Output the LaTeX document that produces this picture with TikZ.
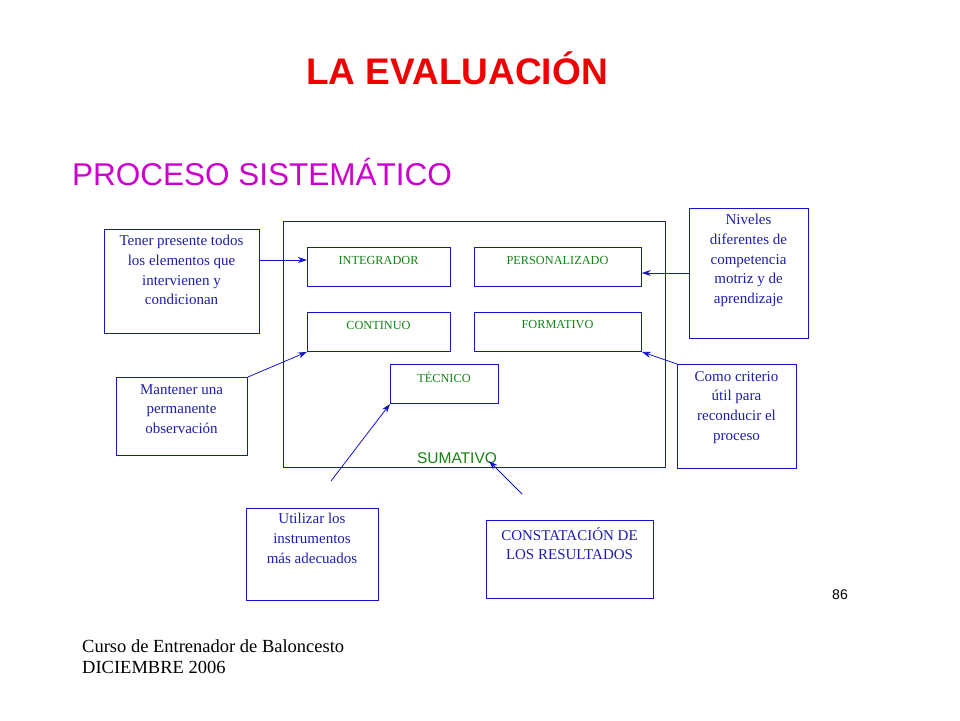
\documentclass[tikz,border=0pt]{standalone}
\usepackage{fontspec}
\setmainfont{Liberation Serif}
\setsansfont{Liberation Sans}
\usetikzlibrary{arrows.meta}
\definecolor{bl}{RGB}{20,20,200}
\definecolor{tx}{RGB}{30,30,170}
\definecolor{gr}{RGB}{20,130,20}
\definecolor{mg}{RGB}{204,0,204}
\tikzset{
 inbox/.style={draw=bl,line width=0.9pt,minimum width=#1,minimum height=39pt,inner sep=0pt},
 outbox/.style={draw=bl,line width=0.9pt,inner sep=0pt,anchor=north west},
 btxt/.style={text=tx,font=\fontsize{15}{19.7}\selectfont,align=center,anchor=north,inner sep=0pt},
 lab/.style={text=gr,font=\fontsize{12.3}{14}\selectfont},
 con/.style={draw=bl,line width=0.8pt,-{Stealth[length=9pt,width=6pt]}}
}
\begin{document}
\begin{tikzpicture}[x=1pt,y=-1pt]
\useasboundingbox (0,0) rectangle (960,720);
\node[font=\sffamily\bfseries\fontsize{37}{40}\selectfont,text={rgb,255:red,240;green,0;blue,0}] (title) at (457,68) {LA EVALUACIÓN};
\node[font=\sffamily\fontsize{31.5}{34}\selectfont,text=mg,anchor=west,inner sep=0pt] (sub) at (72,172) {PROCESO SISTEMÁTICO};
\node[draw=bl,line width=0.9pt,minimum width=382pt,minimum height=246pt,anchor=north west,inner sep=0pt] (outer) at (283,221) {};
\node[inbox=143pt,anchor=north west] (int) at (307,247) {};
\node[lab] at (378.5,260) {INTEGRADOR};
\node[inbox=167pt,anchor=north west] (per) at (474,247) {};
\node[lab] at (557.5,260) {PERSONALIZADO};
\node[inbox=143pt,anchor=north west] (con) at (307,312) {};
\node[lab] at (378.5,325) {CONTINUO};
\node[inbox=167pt,anchor=north west] (for) at (474,312) {};
\node[lab] at (557.5,325) {FORMATIVO};
\node[inbox=108pt,anchor=north west] (tec) at (390,364) {};
\node[lab] at (444,377) {TÉCNICO};
\node[text=gr,font=\sffamily\fontsize{15.5}{17}\selectfont,inner sep=0pt] (sum) at (457,458) {SUMATIVO};
\node[outbox,minimum width=155pt,minimum height=104pt] (ten) at (104,229) {};
\node[btxt] at (181.5,235) {Tener presente todos\\los elementos que\\intervienen y\\condicionan};
\node[outbox,minimum width=119pt,minimum height=130pt] (niv) at (689,208) {};
\node[btxt] at (748.5,214) {Niveles\\diferentes de\\competencia\\motriz y de\\aprendizaje};
\node[outbox,minimum width=131pt,minimum height=78pt] (man) at (116,377) {};
\node[btxt] at (181.5,384) {Mantener una\\permanente\\observación};
\node[outbox,minimum width=119pt,minimum height=104pt] (com) at (677,364) {};
\node[btxt] at (736.5,371) {Como criterio\\útil para\\reconducir el\\proceso};
\node[outbox,minimum width=132pt,minimum height=92pt] (uti) at (246,508) {};
\node[btxt] at (312,513) {Utilizar los\\instrumentos\\más adecuados};
\node[outbox,minimum width=167pt,minimum height=78pt] (cst) at (486,520) {};
\node[btxt] at (569.5,527) {CONSTATACIÓN DE\\LOS RESULTADOS};
\coordinate (a1) at (259,260);
\coordinate (a2) at (689,273);
\coordinate (a5) at (331,481);
\coordinate (a6) at (522,494);
\coordinate (t6) at (489,461);
\draw[con] (a1) -- (int.west |- a1);
\draw[con] (a2) -- (per.east |- a2);
\draw[con] (man.north east) -- (con.south west);
\draw[con] (com.north west) -- (for.south east);
\draw[con] (a5) -- (tec.south west);
\draw[con] (a6) -- (t6);
\node[font=\sffamily\fontsize{14}{16}\selectfont] (pg) at (840,595) {86};
\node[font=\fontsize{18.5}{21}\selectfont,align=left,anchor=north west,inner sep=0pt] (foot) at (82,639) {Curso de Entrenador de Baloncesto\\DICIEMBRE 2006};
\end{tikzpicture}
\end{document}
